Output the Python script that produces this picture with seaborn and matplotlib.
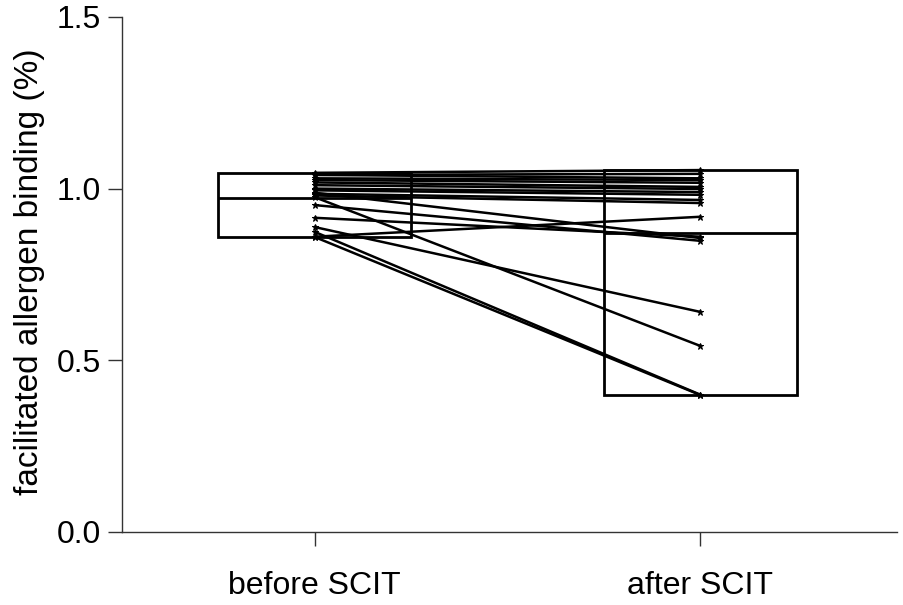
import numpy as np
import pandas as pd
import matplotlib
matplotlib.use("Agg")
import matplotlib.pyplot as plt
import seaborn as sns

groups = ["before SCIT", "after SCIT"]
before = [0.859, 0.874, 0.888, 0.975, 0.860, 0.915, 0.952, 0.988,
          1.046, 1.040, 1.030, 1.025, 1.018, 1.010, 1.000, 0.995,
          0.985, 0.980, 1.040]
after = [0.399, 0.400, 0.641, 0.542, 0.918, 0.860, 0.848, 0.856,
         1.054, 1.043, 1.025, 1.017, 1.005, 0.999, 0.990, 0.982,
         0.967, 0.958, 1.030]
y_ticks = [0.0, 0.5, 1.0, 1.5]
y_label = "facilitated allergen binding (%)"

n = len(before)
df = pd.DataFrame({
    "subject": list(range(n)) * 2,
    "group": [groups[0]] * n + [groups[1]] * n,
    "value": before + after,
})

sns.set_style("ticks")
plt.rcParams["font.family"] = ["Liberation Sans", "DejaVu Sans"]
plt.rcParams["text.color"] = "black"
plt.rcParams["axes.labelcolor"] = "black"
plt.rcParams["xtick.labelcolor"] = "black"
plt.rcParams["ytick.labelcolor"] = "black"

fig = plt.figure(figsize=(9.04, 6.05), dpi=100)
ax = fig.add_axes([0.135, 0.1207, 0.857, 0.8513])

# min-max boxes with mean line
summary = df.groupby("group", sort=False)["value"].agg(["min", "max", "mean"]).reindex(groups)
xpos = np.arange(len(groups))
ax.bar(xpos, summary["max"] - summary["min"], bottom=summary["min"], width=0.5,
       fill=False, edgecolor="black", linewidth=2, zorder=3)
ax.hlines(summary["mean"], xpos - 0.25, xpos + 0.25, color="black", linewidth=2, zorder=3)

# paired lines
sns.lineplot(data=df, x="group", y="value", units="subject", estimator=None,
             color="black", linewidth=1.8, marker="*", markersize=5,
             markeredgecolor="black", ax=ax, zorder=2, sort=False)

ax.set_xlim(-0.5, 1.51)
ax.set_ylim(0, 1.5)
ax.set_yticks(y_ticks)
ax.set_yticklabels([f"{t:.1f}" for t in y_ticks])
ax.set_xticks(xpos)
ax.set_xticklabels(groups)
ax.set_xlabel("")
ax.set_ylabel(y_label, fontsize=24, color="black")
ax.yaxis.set_label_coords(-0.1, 0.505)
ax.tick_params(axis="y", length=10, width=1, pad=5, labelsize=23, color="#333333", labelcolor="black")
ax.tick_params(axis="x", length=10, width=1, pad=18, labelsize=23, color="#333333", labelcolor="black")
for s in ["top", "right"]:
    ax.spines[s].set_visible(False)
for s in ["left", "bottom"]:
    ax.spines[s].set_color("#333333")
    ax.spines[s].set_linewidth(1)
ax.grid(False)

fig.savefig("out.png", dpi=100)
